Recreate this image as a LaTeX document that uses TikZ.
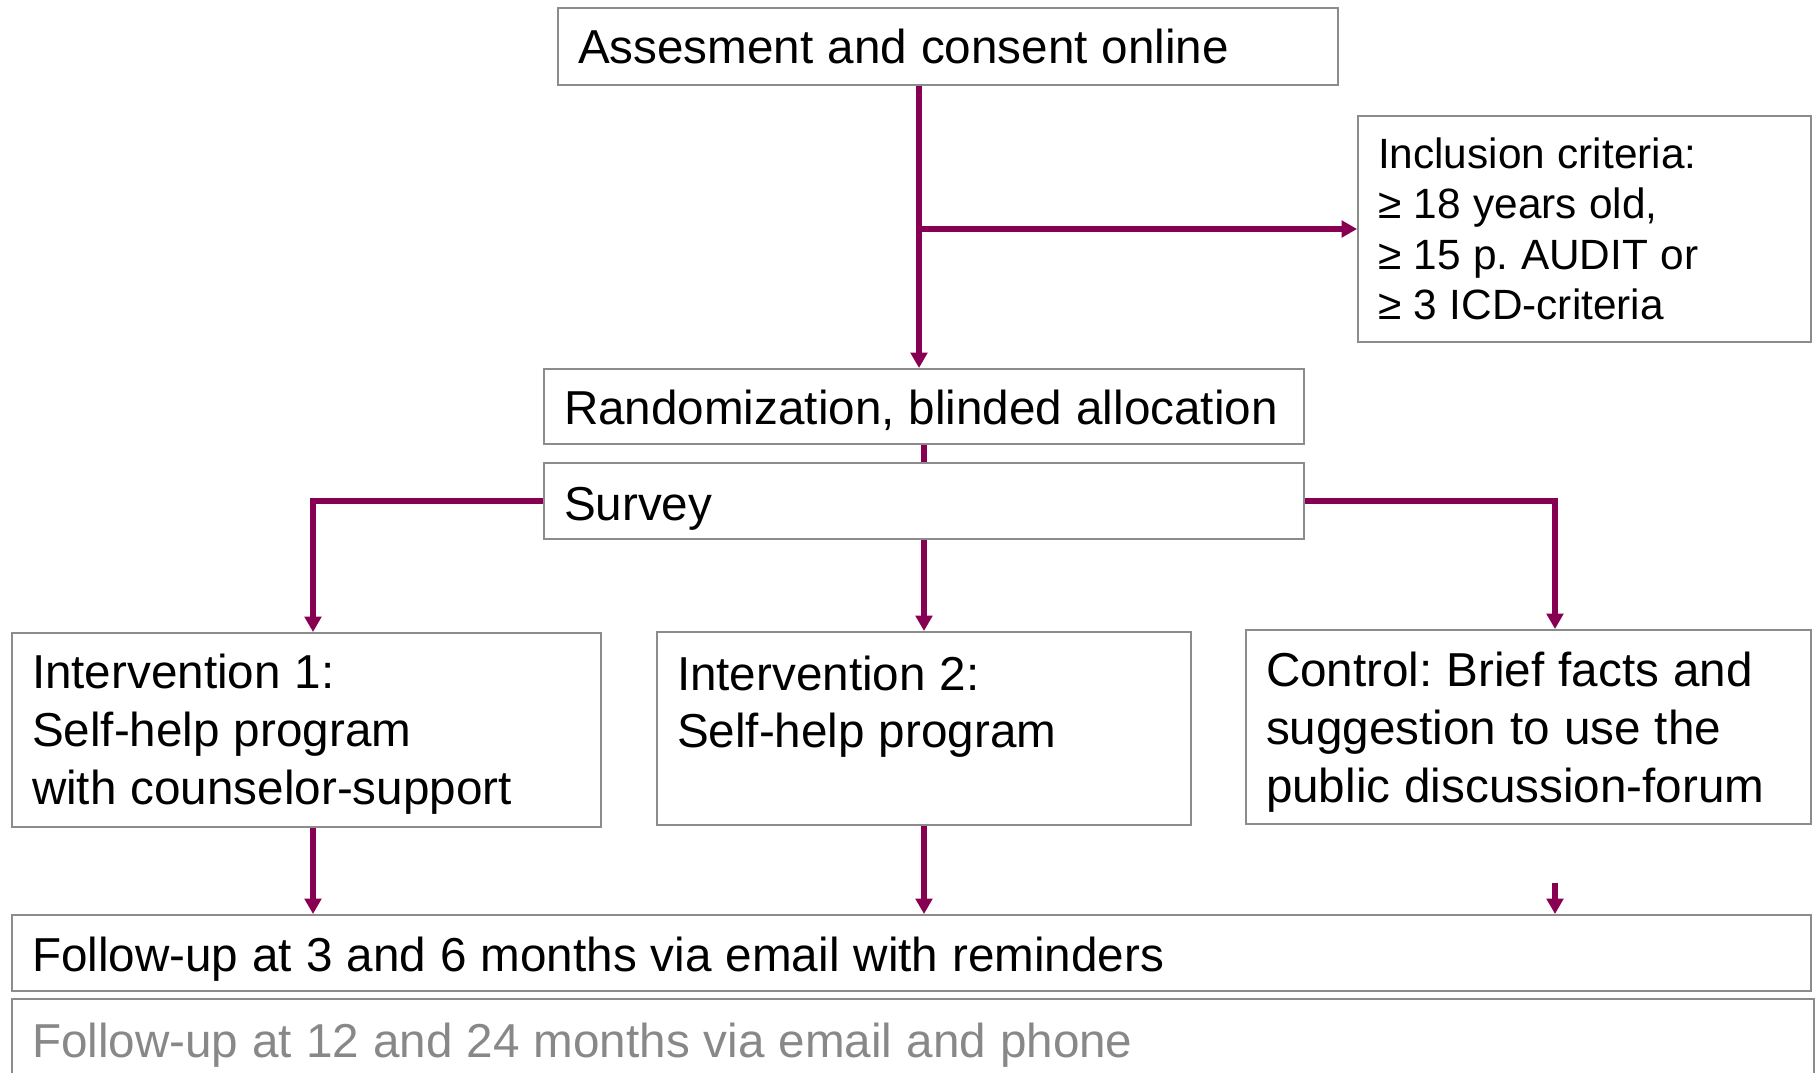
\documentclass[tikz,border=0pt]{standalone}
\usepackage{fontspec}
\setmainfont{Liberation Sans}
\usetikzlibrary{arrows.meta}
\definecolor{linkpurple}{RGB}{135,0,82}
\definecolor{framegray}{RGB}{140,140,140}
\definecolor{softgray}{RGB}{136,136,136}
\frenchspacing

\begin{document}
\begin{tikzpicture}[
    stage/.style={draw=framegray, line width=1.1pt, inner xsep=0.4cm, inner ysep=0pt,
        align=left, font=\fontsize{27.1}{33}\selectfont,
        execute at begin node={\spaceskip=0.295em\relax}},
    sunk/.style={execute at begin node={\rule{0pt}{#1}}},
    flow/.style={draw=linkpurple, line width=3pt, -{Triangle[length=0.31cm,width=0.33cm]}},
    link/.style={draw=linkpurple, line width=3pt}
]
    \useasboundingbox (0,0) rectangle (36.36,-21.46);

    \node[stage, text width=14.8cm, minimum height=1.54cm] (assess) at (18.96,-0.93) {Assesment and consent online};
    \node[stage, text width=8.26cm, minimum height=4.52cm, font=\fontsize{24.1}{28.7}\selectfont] (incl) at (31.69,-4.58)
        {Inclusion criteria:\\≥ 18 years old,\\≥ 15 p. AUDIT or\\≥ 3 ICD-criteria};

    \node[stage, sunk=0.86cm, text width=14.4cm, minimum height=1.5cm] (rand) at (18.48,-8.13) {Randomization, blinded allocation};
    \node[stage, sunk=0.96cm, text width=14.4cm, minimum height=1.52cm] (survey) at (18.48,-10.02) {Survey};

    \node[stage, sunk=0.86cm, text width=10.98cm, minimum height=3.88cm] (int1) at (6.13,-14.6)
        {Intervention 1:\\Self-help program\\with counselor-support};
    \node[stage, sunk=0.78cm, text width=9.88cm, minimum height=3.86cm] (int2) at (18.48,-14.57)
        {Intervention 2:\\Self-help program\\\mbox{}};
    \node[stage, sunk=0.9cm, text width=10.5cm, minimum height=3.88cm] (ctrl) at (30.57,-14.54)
        {Control: Brief facts and\\suggestion to use the\\public discussion-forum};

    \node[stage, sunk=0.92cm, text width=35.18cm, minimum height=1.52cm] (fu1) at (18.23,-19.06)
        {Follow-up at 3 and 6 months via email with reminders};
    \node[stage, sunk=1cm, text width=35.24cm, minimum height=1.52cm, text=softgray] (fu2) at (18.26,-20.74)
        {Follow-up at 12 and 24 months via email and phone};

    % lanes of the arrows
    \coordinate (trunk) at (18.38,0);
    \coordinate (leftx) at (6.26,0);
    \coordinate (rightx) at (31.1,0);
    \coordinate (ctrlstub) at (31.1,-17.66);

    \draw[flow] (trunk |- assess.south) -- (trunk |- rand.north);
    \draw[flow] (trunk |- incl.west) -- (incl.west);
    \draw[link] (rand.south) -- (survey.north);

    \draw[flow] (survey.west) -| (leftx |- int1.north);
    \draw[flow] (survey.south) -- (int2.north);
    \draw[flow] (survey.east) -| (rightx |- ctrl.north);

    \draw[flow] (leftx |- int1.south) -- (leftx |- fu1.north);
    \draw[flow] (int2.south) -- (int2.south |- fu1.north);
    \draw[flow] (ctrlstub) -- (ctrlstub |- fu1.north);
\end{tikzpicture}
\end{document}
